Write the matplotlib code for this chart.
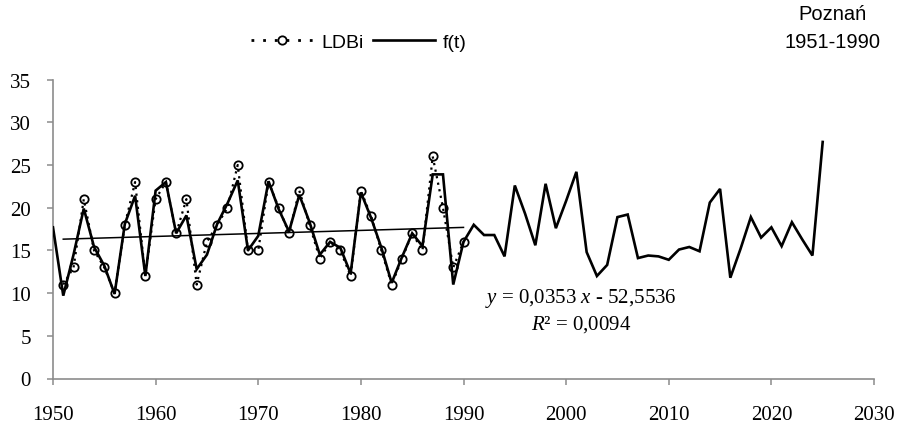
import matplotlib
matplotlib.use("Agg")
import matplotlib.pyplot as plt
from matplotlib.lines import Line2D
import numpy as np

plt.rcParams["mathtext.fontset"] = "custom"
plt.rcParams["mathtext.it"] = "Liberation Serif:italic"
plt.rcParams["mathtext.rm"] = "Liberation Serif"

# ---- data ----
years_f = list(range(1950, 2026))
f_values = [17.7, 9.7, 14.5, 19.9, 15.4, 13.2, 9.9, 18.1, 21.4, 12.0,
            22.0, 23.0, 17.0, 19.1, 12.8, 14.5, 18.1, 20.5, 23.2, 15.0,
            16.7, 23.1, 19.8, 17.2, 21.5, 18.3, 14.5, 16.0, 15.3, 12.3,
            21.8, 18.8, 15.3, 11.2, 14.2, 17.0, 15.5, 23.9, 23.9, 11.0,
            16.0, 18.0, 16.8, 16.8, 14.3, 22.6, 19.3, 15.6, 22.8, 17.6,
            20.8, 24.2, 14.8, 12.0, 13.3, 18.9, 19.2, 14.1, 14.4, 14.3,
            13.9, 15.1, 15.4, 14.9, 20.6, 22.2, 11.8, 15.2, 18.9, 16.5,
            17.7, 15.5, 18.3, 16.3, 14.4, 27.7]

years_ldbi = list(range(1951, 1991))
ldbi_values = [11, 13, 21, 15, 13, 10, 18, 23, 12, 21,
               23, 17, 21, 11, 16, 18, 20, 25, 15, 15,
               23, 20, 17, 22, 18, 14, 16, 15, 12, 22,
               19, 15, 11, 14, 17, 15, 26, 20, 13, 16]

trend_slope = 0.0353
trend_intercept = -52.5536
trend_r2 = 0.0094

x_ticks = [1950, 1960, 1970, 1980, 1990, 2000, 2010, 2020, 2030]
y_ticks = [0, 5, 10, 15, 20, 25, 30, 35]

# ---- figure ----
fig = plt.figure(figsize=(8.99, 4.27), dpi=100)
ax = fig.add_axes([53 / 899, 1 - 379.5 / 427, (874 - 53) / 899, (379.5 - 80.6) / 427])

grey = "#8c8c8c"

ax.plot(years_f, f_values, color="black", lw=1.9, solid_joinstyle="miter", zorder=3)
ax.plot(years_ldbi, ldbi_values, color="black", lw=1.6, linestyle=(0, (1, 2)),
        marker="o", markersize=6, markerfacecolor="none", markeredgecolor="black",
        markeredgewidth=1.3, zorder=4)

tx = np.array([years_ldbi[0], years_ldbi[-1]])
ax.plot(tx, trend_slope * tx + trend_intercept, color="black", lw=1.1, zorder=2)

ax.set_xlim(1950, 2030)
ax.set_ylim(0, 35)
ax.set_xticks(x_ticks)
ax.set_yticks(y_ticks)

for s in ["top", "right"]:
    ax.spines[s].set_visible(False)
for s in ["left", "bottom"]:
    ax.spines[s].set_color(grey)
    ax.spines[s].set_linewidth(1.2)

serif = ["Liberation Serif", "DejaVu Serif"]
ax.tick_params(axis="both", direction="out", length=4, width=1.1, color=grey,
               labelsize=15, labelcolor="black")
ax.tick_params(axis="x", pad=15)
ax.tick_params(axis="y", pad=12)
for lab in ax.get_xticklabels() + ax.get_yticklabels():
    lab.set_fontfamily(serif)

eq_text = "$y$ = %s $x$ - %s" % (("%.4f" % trend_slope).replace(".", ","),
                                  ("%.4f" % -trend_intercept).replace(".", ","))
r2_text = "$R$² = %s" % ("%.4f" % trend_r2).replace(".", ",")
ax.text(0.643, 0.27, eq_text, transform=ax.transAxes,
        ha="center", va="center", fontsize=15, fontfamily=serif)
ax.text(0.643, 0.185, r2_text, transform=ax.transAxes,
        ha="center", va="center", fontsize=15, fontfamily=serif)

h_ldbi = Line2D([], [], color="black", lw=2.0, linestyle=(0, (1, 3.2)),
                marker="o", markersize=6, markerfacecolor="white",
                markeredgecolor="black", markeredgewidth=1.3)
h_f = Line2D([], [], color="black", lw=1.9)
sans = ["Liberation Sans", "DejaVu Sans"]
leg = fig.legend([h_ldbi, h_f], ["LDBi", "f(t)"],
                 loc="center", bbox_to_anchor=(359 / 899, 1 - 43 / 427), ncol=2,
                 frameon=False, handlelength=3.2, columnspacing=0.5,
                 handletextpad=0.4, prop={"family": sans, "size": 14})

fig.text(833 / 899, 1 - 15 / 427, "Poznań", ha="center", va="center",
         fontsize=14.5, fontfamily=sans)
fig.text(833 / 899, 1 - 43 / 427, "1951-1990", ha="center", va="center",
         fontsize=14.5, fontfamily=sans)

fig.savefig("out.png", dpi=100)
